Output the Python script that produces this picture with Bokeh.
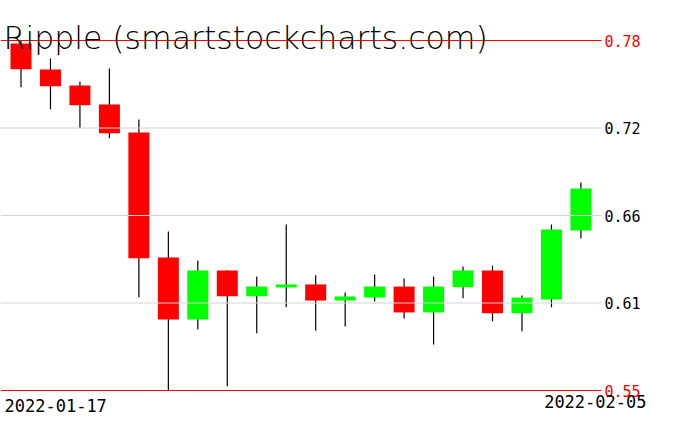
import numpy as np
from bokeh.plotting import figure
from bokeh.models import ColumnDataSource, Range1d, Label
from bokeh.core.properties import value
from bokeh.embed import file_html
from bokeh.resources import INLINE

# ---------------- data ----------------
title_text = "Ripple (smartstockcharts.com)"
date_labels = ["2022-01-17", "2022-02-05"]

open_ = [0.7780, 0.7609, 0.7504, 0.7379, 0.7195, 0.6374, 0.5967, 0.6289, 0.6120, 0.6177,
         0.6197, 0.6091, 0.6111, 0.6183, 0.6013, 0.6179, 0.6289, 0.6008, 0.6098, 0.6551]
close = [0.7611, 0.7500, 0.7375, 0.7191, 0.6369, 0.5967, 0.6289, 0.6120, 0.6183, 0.6197,
         0.6091, 0.6118, 0.6183, 0.6013, 0.6183, 0.6289, 0.6008, 0.6111, 0.6558, 0.6827]
high = [0.7800, 0.7682, 0.7531, 0.7616, 0.7281, 0.6545, 0.6354, 0.6292, 0.6249, 0.6591,
        0.6258, 0.6144, 0.6262, 0.6236, 0.6249, 0.6315, 0.6321, 0.6124, 0.6591, 0.6867]
low = [0.7493, 0.7349, 0.7224, 0.7158, 0.6113, 0.5500, 0.5901, 0.5528, 0.5877, 0.6047,
       0.5894, 0.5921, 0.6085, 0.5973, 0.5802, 0.6107, 0.5955, 0.5890, 0.6047, 0.6499]
y_tick_labels = ["0.78", "0.72", "0.66", "0.61", "0.55"]

# ---------------- layout ----------------
n = len(open_)
xs = list(range(n))
hi, lo = max(high), min(low)
W, H = 660, 415
slot = 29.47                      # px per candle
xr0 = -20.5 / slot
xr1 = xr0 + W / slot
line_end = xr0 + 601 / slot       # where the horizontal rules stop
k = (hi - lo) / 350.0             # value per px
yr1 = hi + 40 * k
yr0 = lo - (H - 390) * k

ticks = [float(t) for t in np.linspace(hi, lo, len(y_tick_labels))]
tick_colors = ["#ff0000"] + ["black"] * (len(ticks) - 2) + ["#ff0000"]

p = figure(width=W, height=H, x_range=Range1d(xr0, xr1), y_range=Range1d(yr0, yr1),
           output_backend="svg", toolbar_location=None,
           x_axis_location=None, y_axis_location=None,
           min_border_left=0, min_border_right=0, min_border_top=0, min_border_bottom=0)
p.outline_line_color = None
p.background_fill_color = "white"
p.border_fill_color = "white"
p.xgrid.visible = False
p.ygrid.visible = False

colors = ["#00ff00" if c > o else "#ff0000" for o, c in zip(open_, close)]
src = ColumnDataSource(dict(x=xs, open=open_, close=close, high=high, low=low,
                            top=[max(o, c) for o, c in zip(open_, close)],
                            bottom=[min(o, c) for o, c in zip(open_, close)],
                            color=colors))

p.segment(x0="x", y0="high", x1="x", y1="low", line_color="black", line_width=1.2, source=src)
p.vbar(x="x", width=0.7126, top="top", bottom="bottom", fill_color="color",
       line_color=None, source=src)

# grid rules (drawn above the candles, as in the reference)
inner = ticks[1:-1]
p.segment(x0=[xr0] * len(inner), y0=inner, x1=[line_end] * len(inner), y1=inner,
          line_color="#d3d3d3", line_width=1)
p.segment(x0=[xr0, xr0], y0=[hi, lo], x1=[line_end, line_end], y1=[hi, lo],
          line_color="#ff0000", line_width=1)

# y tick labels on the right
tsrc = ColumnDataSource(dict(x=[line_end] * len(ticks), y=ticks, text=y_tick_labels,
                             color=tick_colors))
p.text(x="x", y="y", text="text", source=tsrc, x_offset=3, text_color="color",
       text_font=value("DejaVu Sans Mono"), text_font_size="15px",
       text_baseline="alphabetic", text_align="left")

# title
p.add_layout(Label(x=xr0, y=hi, x_offset=3, y_offset=3, text=title_text,
                   text_font="DejaVu Sans Light", text_font_size="31.5px",
                   text_baseline="alphabetic", text_align="left", text_color="black"))

# date labels
p.add_layout(Label(x=xr0, y=lo, x_offset=4, y_offset=-15, text=date_labels[0],
                   text_font="DejaVu Sans Mono", text_font_size="17px",
                   text_baseline="alphabetic", text_align="left", text_color="black"))
p.add_layout(Label(x=xr0 + 646 / slot, y=lo, x_offset=0, y_offset=-11, text=date_labels[1],
                   text_font="DejaVu Sans Mono", text_font_size="17px",
                   text_baseline="alphabetic", text_align="right", text_color="black"))

open("out.html", "w").write(file_html(p, INLINE))
